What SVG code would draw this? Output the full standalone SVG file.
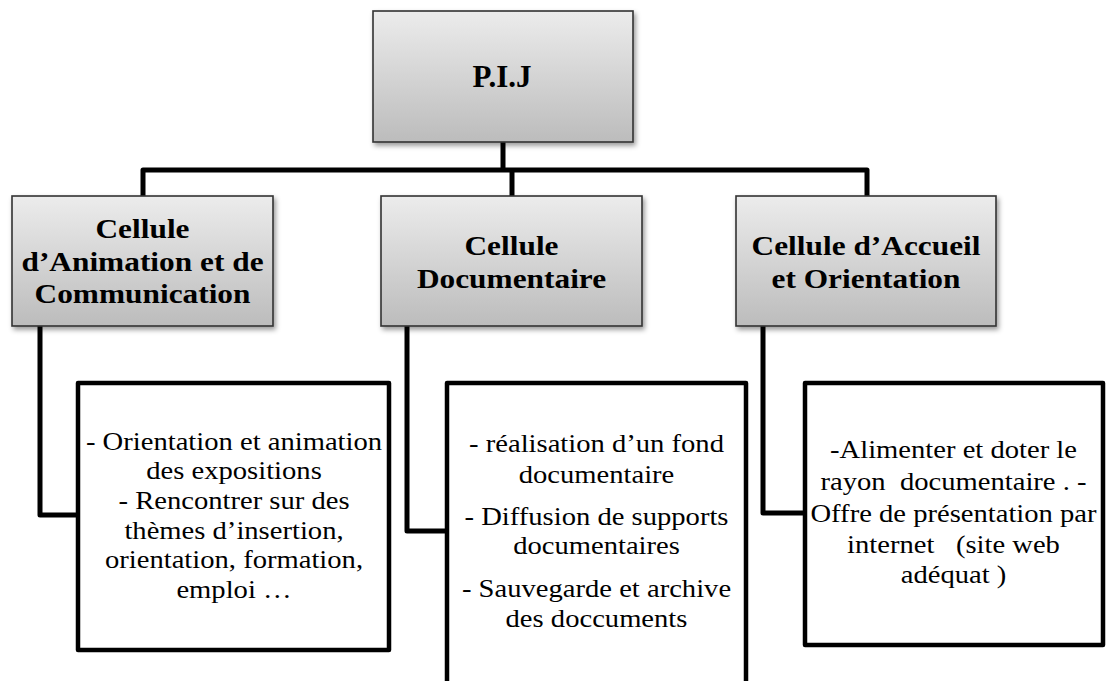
<svg xmlns="http://www.w3.org/2000/svg" width="1107" height="681" viewBox="0 0 1107 681">
<defs>
<linearGradient id="g" x1="0" y1="0" x2="0" y2="1">
<stop offset="0" stop-color="#ececec"/>
<stop offset="1" stop-color="#bcbcbc"/>
</linearGradient>
<filter id="sh" x="-10%" y="-10%" width="125%" height="130%">
<feDropShadow dx="2" dy="3" stdDeviation="2.5" flood-color="#000" flood-opacity="0.4"/>
</filter>
</defs>
<style>
.hb{fill:url(#g);stroke:#333;stroke-width:1.6;filter:url(#sh)}
.tb{fill:#fff;stroke:#000;stroke-width:4.5;stroke-linejoin:round}
.ln{fill:none;stroke:#000;stroke-width:5;stroke-linejoin:round}
text{font-family:"Liberation Serif",Tinos,"Times New Roman",Times,"Noto Serif",serif;fill:#000;text-anchor:middle}
.h{font-weight:bold;font-size:28px}
.b{font-size:26px}
</style>
<rect width="1107" height="681" fill="#fff"/>
<g id="connectors">
<path class="ln" d="M503,142 V170"/>
<path class="ln" d="M143,196 V170 H867 V196"/>
<path class="ln" d="M512,170 V196"/>
<path class="ln" d="M40,326 V515 H78"/>
<path class="ln" d="M407,326 V531 H447"/>
<path class="ln" d="M763,326 V513 H805"/>
</g>
<g id="pij">
<rect class="hb" x="373" y="11" width="260" height="131"/>
<text class="h" x="502" y="87" style="font-size:31px">P.I.J</text>
</g>
<g id="cellule-animation">
<rect class="hb" x="12" y="196" width="261" height="130"/>
<g transform="translate(142.5 0) scale(1.12 1)">
<text class="h" x="0" y="238">Cellule</text>
<text class="h" x="0" y="271">d’Animation et de</text>
<text class="h" x="0" y="303">Communication</text>
</g>
</g>
<g id="cellule-documentaire">
<rect class="hb" x="381" y="196" width="261" height="130"/>
<g transform="translate(511.5 0) scale(1.12 1)">
<text class="h" x="0" y="255">Cellule</text>
<text class="h" x="0" y="288">Documentaire</text>
</g>
</g>
<g id="cellule-accueil">
<rect class="hb" x="736" y="196" width="260" height="130"/>
<g transform="translate(866 0) scale(1.12 1)">
<text class="h" x="0" y="255">Cellule d’Accueil</text>
<text class="h" x="0" y="288">et Orientation</text>
</g>
</g>
<g id="taches-animation">
<rect class="tb" x="78" y="383" width="311" height="267"/>
<g transform="translate(234 0) scale(1.1 1)">
<text class="b" x="0" y="450">- Orientation et animation</text>
<text class="b" x="0" y="479">des expositions</text>
<text class="b" x="0" y="509">- Rencontrer sur des</text>
<text class="b" x="0" y="539">thèmes d’insertion,</text>
<text class="b" x="0" y="568">orientation, formation,</text>
<text class="b" x="0" y="598">emploi …</text>
</g>
</g>
<g id="taches-documentaire">
<path class="tb" d="M447,690 V383 H746 V690"/>
<g transform="translate(596.5 0) scale(1.1 1)">
<text class="b" x="0" y="452">- réalisation d’un fond</text>
<text class="b" x="0" y="483">documentaire</text>
<text class="b" x="0" y="525">- Diffusion de supports</text>
<text class="b" x="0" y="554">documentaires</text>
<text class="b" x="0" y="597">- Sauvegarde et archive</text>
<text class="b" x="0" y="627">des doccuments</text>
</g>
</g>
<g id="taches-accueil">
<rect class="tb" x="805" y="383" width="298" height="262"/>
<g transform="translate(953.5 0) scale(1.1 1)">
<text class="b" x="0" y="458">-Alimenter et doter le</text>
<text class="b" x="0" y="490" xml:space="preserve">rayon  documentaire . -</text>
<text class="b" x="0" y="522">Offre de présentation par</text>
<text class="b" x="0" y="553" xml:space="preserve">internet   (site web</text>
<text class="b" x="0" y="583">adéquat )</text>
</g>
</g>
</svg>
